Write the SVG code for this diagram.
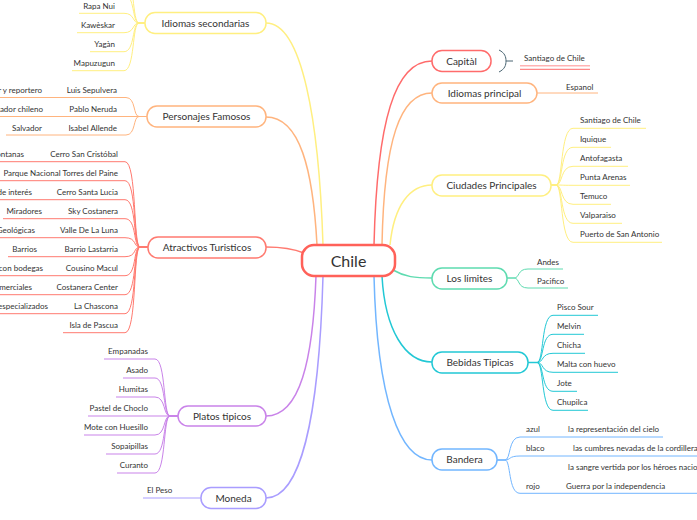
<svg xmlns="http://www.w3.org/2000/svg" width="697" height="520" viewBox="0 0 697 520">
<style>
text{font-family:Lato,"Liberation Sans",sans-serif;fill:#333}
.t{font-size:10px;text-anchor:middle}
.s{font-size:8px}
.e{text-anchor:end}
.box{fill:#fff;stroke-width:1.5}
.c{fill:none;stroke-width:1.5}
.l{fill:none;stroke-width:1}
.yel{stroke:#FFEF80}.org{stroke:#FFB47E}.red{stroke:#FF7A70}.pur{stroke:#C983E9}.lav{stroke:#A99DFF}
.grn{stroke:#5EDBB0}.cyn{stroke:#22C8D5}.blu{stroke:#72B6FF}
</style>
<rect width="697" height="520" fill="#fff"/>
<g id="connectors">
<path class="c yel" d="M323,245 C319,120 302,23 266,23"/>
<path class="c org" d="M317,245 C313,170 300,117 266,117"/>
<path class="c red" d="M304,253 C294,249 285,247 266,247"/>
<path class="c pur" d="M316,276 C313,360 300,416 266,416"/>
<path class="c lav" d="M323,276 C319,420 300,498 266,498"/>
<path class="c" stroke="#FF6B6B" d="M374,245 C377,120 395,61 432,61"/>
<path class="c org" d="M382,245 C384,140 400,93 432,93"/>
<path class="c yel" d="M390,245 C394,205 410,185 432,185"/>
<path class="c grn" d="M393,270 C405,277 415,278 432,278"/>
<path class="c cyn" d="M382,276 C385,330 405,362 432,362"/>
<path class="c blu" d="M374,276 C377,400 400,460 432,460"/>
<!-- Idiomas secondarias children -->
<path class="l yel" d="M145,23 L139,23 C132,23 135,-24.7 124,-24.7"/>
<path class="l yel" d="M145,23 L139,23 C132,23 135,-5.7 124,-5.7"/>
<path class="l yel" d="M145,23 L139,23 C132,23 135,13.3 124,13.3 L79,13.3"/>
<path class="l yel" d="M145,23 L139,23 C132,23 135,32.7 124,32.7 L77,32.7"/>
<path class="l yel" d="M145,23 L139,23 C132,23 135,51.7 124,51.7 L90,51.7"/>
<path class="l yel" d="M145,23 L139,23 C132,23 135,70.7 124,70.7 L72,70.7"/>
<!-- Personajes -->
<path class="l org" d="M147,116.5 L139,116.5 C133,116.5 136,97.5 126,97.5 L0,97.5"/>
<path class="l org" d="M147,116.5 L0,116.5"/>
<path class="l org" d="M147,116.5 L139,116.5 C133,116.5 136,135 126,135 L6,135"/>
<!-- Atractivos -->
<path class="l red" d="M148,247 L140,247 C133,247 137,161.7 125,161.7 L0,161.7"/>
<path class="l red" d="M148,247 L140,247 C133,247 137,180.7 125,180.7 L0,180.7"/>
<path class="l red" d="M148,247 L140,247 C133,247 137,199.7 125,199.7 L0,199.7"/>
<path class="l red" d="M148,247 L140,247 C133,247 137,218.7 125,218.7 L3,218.7"/>
<path class="l red" d="M148,247 L140,247 C133,247 137,237.7 125,237.7 L0,237.7"/>
<path class="l red" d="M148,247 L140,247 C133,247 137,256.7 125,256.7 L8,256.7"/>
<path class="l red" d="M148,247 L140,247 C133,247 137,275.7 125,275.7 L0,275.7"/>
<path class="l red" d="M148,247 L140,247 C133,247 137,294.7 125,294.7 L0,294.7"/>
<path class="l red" d="M148,247 L140,247 C133,247 137,313.7 125,313.7 L0,313.7"/>
<path class="l red" d="M148,247 L140,247 C133,247 137,332.7 125,332.7 L63,332.7"/>
<!-- Platos -->
<path class="l pur" d="M178,416 L170,416 C163,416 166,359 155,359 L104,359"/>
<path class="l pur" d="M178,416 L170,416 C163,416 166,378 155,378 L123,378"/>
<path class="l pur" d="M178,416 L170,416 C163,416 166,397 155,397 L116,397"/>
<path class="l pur" d="M178,416 L88,416"/>
<path class="l pur" d="M178,416 L170,416 C163,416 166,435 155,435 L84,435"/>
<path class="l pur" d="M178,416 L170,416 C163,416 166,454 155,454 L106,454"/>
<path class="l pur" d="M178,416 L170,416 C163,416 166,473 155,473 L117,473"/>
<!-- Moneda -->
<path class="l lav" d="M201,498 L143,498"/>
<!-- Capital summary -->
<path fill="none" stroke="#4A6572" stroke-width="1" d="M499,50 C505,53 506,57 506,61 C506,65 505,69 499,72 M506,61 L513,61"/>
<line x1="520" y1="65.7" x2="590" y2="65.7" stroke="#FFB3B3" stroke-width="1.5"/>
<line x1="520" y1="69.3" x2="590" y2="69.3" stroke="#FF6B6B" stroke-width="1"/>
<!-- Idiomas principal -->
<path class="l org" d="M537,93 L598,93"/>
<!-- Ciudades -->
<path class="l yel" d="M551,185 L556,185 C563,185 560,128.3 573,128.3 L646,128.3"/>
<path class="l yel" d="M551,185 L556,185 C563,185 560,147.3 573,147.3 L611,147.3"/>
<path class="l yel" d="M551,185 L556,185 C563,185 560,166.3 573,166.3 L628,166.3"/>
<path class="l yel" d="M551,185 L556,185 C563,185 560,185.3 573,185.3 L630,185.3"/>
<path class="l yel" d="M551,185 L556,185 C563,185 560,204.3 573,204.3 L611,204.3"/>
<path class="l yel" d="M551,185 L556,185 C563,185 560,223.3 573,223.3 L622,223.3"/>
<path class="l yel" d="M551,185 L556,185 C563,185 560,242.3 573,242.3 L662,242.3"/>
<!-- Los limites -->
<path class="l grn" d="M507,278 L514,278 C520,278 517,269 528,269 L563,269"/>
<path class="l grn" d="M507,278 L514,278 C520,278 517,288 528,288 L568,288"/>
<!-- Bebidas -->
<path class="c cyn" d="M528,362.5 L537,362.5"/>
<path class="l cyn" d="M537,362.5 C544,362.5 541,315.3 553,315.3 L598,315.3"/>
<path class="l cyn" d="M537,362.5 C544,362.5 541,334.3 553,334.3 L584,334.3"/>
<path class="l cyn" d="M537,362.5 C544,362.5 541,353.3 553,353.3 L585,353.3"/>
<path class="l cyn" d="M537,362.5 C544,362.5 541,372.3 553,372.3 L618,372.3"/>
<path class="l cyn" d="M537,362.5 C544,362.5 541,391.3 553,391.3 L577,391.3"/>
<path class="l cyn" d="M537,362.5 C544,362.5 541,410.3 553,410.3 L588,410.3"/>
<!-- Bandera -->
<path class="l blu" d="M497,460 L505,460 C511,460 508,437 520,437 L663,437"/>
<path class="l blu" d="M497,460 L505,460 C511,460 508,456 520,456 L700,456"/>
<path class="l blu" d="M497,460 L505,460 C511,460 508,493.3 520,493.3 L700,493.3"/>
</g>
<g id="chile"><rect x="302" y="245" width="93" height="31" rx="12" fill="#fff" stroke="#FF6159" stroke-width="2.5"/><text x="348.5" y="266.5" font-size="16" text-anchor="middle">Chile</text></g>
<g id="capital"><rect class="box" x="432" y="50.5" width="59" height="21" rx="10" stroke="#FF6B6B"/><text class="t" x="461.5" y="64.5">Capitàl</text></g>
<g id="idiomas-principal"><rect class="box org" x="432" y="83" width="105" height="20" rx="10"/><text class="t" x="484.5" y="96.5">Idiomas principal</text></g>
<g id="ciudades"><rect class="box yel" x="432" y="175" width="119" height="21" rx="10"/><text class="t" x="491.5" y="189">Ciudades Principales</text></g>
<g id="limites"><rect class="box grn" x="432" y="268" width="75" height="21" rx="10"/><text class="t" x="469.5" y="282">Los limites</text></g>
<g id="bebidas"><rect class="box cyn" x="432" y="352" width="96" height="21" rx="10"/><text class="t" x="480" y="366">Bebidas Tipicas</text></g>
<g id="bandera"><rect class="box blu" x="432" y="449" width="65" height="21" rx="10"/><text class="t" x="464.5" y="463">Bandera</text></g>
<g id="idiomas-secondarias"><rect class="box yel" x="145" y="12.5" width="121" height="21" rx="10"/><text class="t" x="205.5" y="26.5">Idiomas secondarias</text></g>
<g id="personajes"><rect class="box org" x="147" y="106" width="119" height="21" rx="10"/><text class="t" x="206.5" y="120">Personajes Famosos</text></g>
<g id="atractivos"><rect class="box red" x="148" y="237" width="118" height="21" rx="10"/><text class="t" x="207" y="251">Atractivos Turisticos</text></g>
<g id="platos"><rect class="box pur" x="178" y="406" width="88" height="20" rx="10"/><text class="t" x="222" y="419.5">Platos tipicos</text></g>
<g id="moneda"><rect class="box lav" x="201" y="487.5" width="65" height="21" rx="10"/><text class="t" x="233.5" y="501.5">Moneda</text></g>
<g id="subtopics-right">
<text class="s" x="524" y="61">Santiago de Chile</text>
<text class="s" x="566" y="89.5">Espanol</text>
<text class="s" x="580" y="123.3">Santiago de Chile</text>
<text class="s" x="580" y="142.3">Iquique</text>
<text class="s" x="580" y="161.3">Antofagasta</text>
<text class="s" x="580" y="180.3">Punta Arenas</text>
<text class="s" x="580" y="199.3">Temuco</text>
<text class="s" x="580" y="218.3">Valparaiso</text>
<text class="s" x="580" y="237.3">Puerto de San Antonio</text>
<text class="s" x="537" y="264.5">Andes</text>
<text class="s" x="537" y="283.5">Pacifico</text>
<text class="s" x="557" y="310.3">Pisco Sour</text>
<text class="s" x="557" y="329.3">Melvin</text>
<text class="s" x="557" y="348.3">Chicha</text>
<text class="s" x="557" y="367.3">Malta con huevo</text>
<text class="s" x="557" y="386.3">Jote</text>
<text class="s" x="557" y="405.3">Chupilca</text>
<text class="s" x="526" y="432">azul</text>
<text class="s" x="568" y="432">la representación del cielo</text>
<text class="s" x="526" y="451">blaco</text>
<text class="s" x="573" y="451">las cumbres nevadas de la cordillera</text>
<text class="s" x="568" y="470">la sangre vertida por los héroes nacionales en la</text>
<text class="s" x="526" y="488.5">rojo</text>
<text class="s" x="566" y="488.5">Guerra por la independencia</text>
</g>
<g id="subtopics-left">
<text class="s e" x="115" y="8.8">Rapa Nui</text>
<text class="s e" x="115" y="28">Kawèskar</text>
<text class="s e" x="115" y="47">Yagàn</text>
<text class="s e" x="115" y="66">Mapuzugun</text>
<text class="s e" x="117" y="92.5">Luis Sepulvera</text>
<text class="s e" x="42" y="92.5">Escritor y reportero</text>
<text class="s e" x="117" y="112">Pablo Neruda</text>
<text class="s e" x="43" y="112">Poeta y senador chileno</text>
<text class="s e" x="117" y="130.5">Isabel Allende</text>
<text class="s e" x="42" y="130.5">Salvador</text>
<text class="s e" x="118" y="157.3">Cerro San Cristóbal</text>
<text class="s e" x="24" y="157.3">Montanas</text>
<text class="s e" x="118" y="176.3">Parque Nacional Torres del Paine</text>
<text class="s e" x="118" y="195.3">Cerro Santa Lucia</text>
<text class="s e" x="32" y="195.3">Lugares de interés</text>
<text class="s e" x="118" y="214.3">Sky Costanera</text>
<text class="s e" x="42" y="214.3">Miradores</text>
<text class="s e" x="118" y="233.3">Valle De La Luna</text>
<text class="s e" x="35" y="233.3">Formaciones Geológicas</text>
<text class="s e" x="118" y="252.3">Barrio Lastarria</text>
<text class="s e" x="37" y="252.3">Barrios</text>
<text class="s e" x="118" y="271.3">Cousino Macul</text>
<text class="s e" x="43" y="271.3">Viña con bodegas</text>
<text class="s e" x="118" y="290.3">Costanera Center</text>
<text class="s e" x="32" y="290.3">Centros comerciales</text>
<text class="s e" x="118" y="309.3">La Chascona</text>
<text class="s e" x="48" y="309.3">Museos especializados</text>
<text class="s e" x="118" y="328.3">Isla de Pascua</text>
<text class="s e" x="148" y="354.3">Empanadas</text>
<text class="s e" x="148" y="373.3">Asado</text>
<text class="s e" x="148" y="392.3">Humitas</text>
<text class="s e" x="148" y="411.3">Pastel de Choclo</text>
<text class="s e" x="148" y="430.3">Mote con Huesillo</text>
<text class="s e" x="148" y="449.3">Sopaipillas</text>
<text class="s e" x="148" y="468.3">Curanto</text>
<text class="s" x="147" y="493">El Peso</text>
</g>
</svg>
